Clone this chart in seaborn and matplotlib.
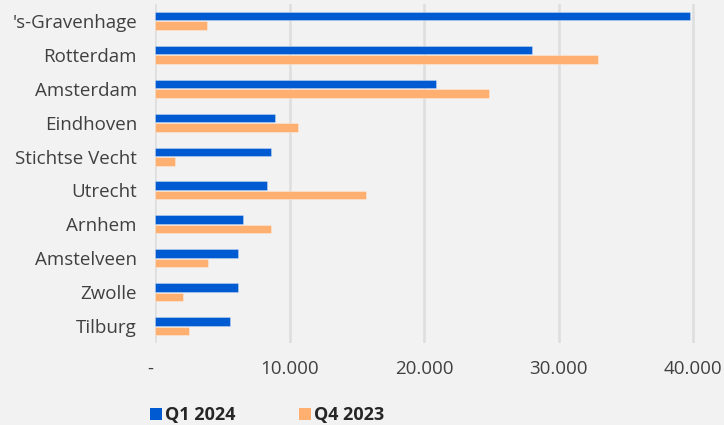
import matplotlib
matplotlib.use("Agg")
import matplotlib.pyplot as plt
import matplotlib.transforms as mtransforms
from matplotlib.patches import Patch
from matplotlib.ticker import FuncFormatter
import pandas as pd
import seaborn as sns

# Gemeenten en aantallen per kwartaal
gemeenten = ["'s-Gravenhage", "Rotterdam", "Amsterdam", "Eindhoven", "Stichtse Vecht",
             "Utrecht", "Arnhem", "Amstelveen", "Zwolle", "Tilburg"]
q1_2024 = [39800, 28000, 20900, 8950, 8650, 8350, 6550, 6200, 6200, 5600]
q4_2023 = [3850, 32900, 24850, 10600, 1480, 15700, 8650, 3950, 2050, 2550]
reeksen = ["Q1 2024", "Q4 2023"]
kleuren = ["#005AD2", "#FFB070"]
x_ticks = [0, 10000, 20000, 30000, 40000]

df = pd.DataFrame({
    "gemeente": gemeenten * 2,
    "waarde": q1_2024 + q4_2023,
    "reeks": [reeksen[0]] * len(gemeenten) + [reeksen[1]] * len(gemeenten),
})

sns.set_theme(style="white")
plt.rcParams["font.family"] = ["Open Sans", "DejaVu Sans"]

bg = "#F2F2F2"
fig = plt.figure(figsize=(7.24, 4.25), dpi=100, facecolor=bg)
ax = fig.add_axes([155 / 724, 1 - 343 / 425, 1 - 155 / 724, 339 / 425])
ax.set_facecolor(bg)

sns.barplot(data=df, y="gemeente", x="waarde", hue="reeks", hue_order=reeksen,
            palette=kleuren, saturation=1, orient="h", width=0.56, gap=0.1, ax=ax,
            legend=False, linewidth=0.6, edgecolor=(1, 1, 1, 0.35))

ax.set_xlim(0, 42300)
ax.set_ylim(9.5, -0.5)
ax.set_xticks(x_ticks)


def fmt(v, _):
    if v == 0:
        return "-"
    return f"{int(v):,}".replace(",", ".")


ax.xaxis.set_major_formatter(FuncFormatter(fmt))
ax.grid(axis="x", color="#DEDEDE", linewidth=1.8)
ax.set_axisbelow(True)
for s in ax.spines.values():
    s.set_visible(False)
ax.set_xlabel("")
ax.set_ylabel("")
ax.tick_params(axis="x", length=0, pad=12, labelsize=13.5, labelcolor="#404040")
ax.tick_params(axis="y", length=0, pad=13, labelsize=13.5, labelcolor="#404040")

# het streepje voor nul iets links van de nul-lijn
nul_label = ax.xaxis.get_major_ticks()[0].label1
nul_label.set_transform(nul_label.get_transform()
                        + mtransforms.ScaledTranslation(-0.05, 0, fig.dpi_scale_trans))

handles = [Patch(facecolor=c, edgecolor="none") for c in kleuren]
fig.legend(handles, reeksen, loc="center left",
           bbox_to_anchor=(134 / 724, 1 - 415 / 425), ncol=2, frameon=False,
           handlelength=0.65, handleheight=0.65, handletextpad=0.18,
           columnspacing=3.5, prop={"weight": "bold", "size": 13})

fig.savefig("out.png", dpi=100, facecolor=bg)
